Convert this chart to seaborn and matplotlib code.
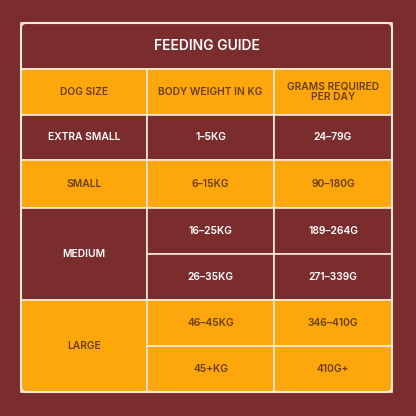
import matplotlib
matplotlib.use("Agg")
import matplotlib.pyplot as plt
from matplotlib.patches import Rectangle, FancyBboxPatch
import seaborn as sns

sns.set_theme(style="white")
plt.rcParams["font.family"] = ["Inter", "DejaVu Sans"]

title = "FEEDING GUIDE"
headers = ["DOG SIZE", "BODY WEIGHT IN KG", "GRAMS REQUIRED\nPER DAY"]
sizes = ["EXTRA SMALL", "SMALL", "MEDIUM", "LARGE"]
weights = [["1–5KG"], ["6–15KG"], ["16–25KG", "26–35KG"], ["46–45KG", "45+KG"]]
grams = [["24–79G"], ["90–180G"], ["189–264G", "271–339G"], ["346–410G", "410G+"]]

# layout in pixels
col_x = [21, 147, 274, 392]
row_h = [45, 48, 92, 92]
top, title_h, head_h = 23, 46, 46

bg = "#7b2d2e"
orange = "#fda70d"
line = "#f4e9d8"
dark_text = "#6b3d12"

fig = plt.figure(figsize=(4.16, 4.16), dpi=100, facecolor=bg)
ax = fig.add_axes([0, 0, 1, 1])
ax.set_xlim(0, 416)
ax.set_ylim(416, 0)
ax.axis("off")
ax.set_facecolor(bg)

lw = 1.2
fs = 7.4
ax.add_patch(Rectangle((col_x[0], top), col_x[3] - col_x[0], title_h, facecolor=bg, edgecolor=line, lw=lw))
ax.text(sum(col_x[::3]) / 2, top + title_h / 2, title, color="white", fontsize=10,
        fontweight="semibold", ha="center", va="center")

y = top + title_h
for i, h in enumerate(headers):
    ax.add_patch(Rectangle((col_x[i], y), col_x[i + 1] - col_x[i], head_h, facecolor=orange, edgecolor=line, lw=lw))
    ax.text((col_x[i] + col_x[i + 1]) / 2, y + head_h / 2, h, color=dark_text, fontsize=fs,
            fontweight="semibold", ha="center", va="center", linespacing=1.1)
y += head_h

for r, size in enumerate(sizes):
    fc = bg if r % 2 == 0 else orange
    tc = "white" if r % 2 == 0 else dark_text
    h = row_h[r]
    ax.add_patch(Rectangle((col_x[0], y), col_x[1] - col_x[0], h, facecolor=fc, edgecolor=line, lw=lw))
    ax.text((col_x[0] + col_x[1]) / 2, y + h / 2, size, color=tc, fontsize=fs,
            fontweight="semibold", ha="center", va="center")
    n = len(weights[r])
    sub = h / n
    for k in range(n):
        for c, vals in ((1, weights[r]), (2, grams[r])):
            ax.add_patch(Rectangle((col_x[c], y + k * sub), col_x[c + 1] - col_x[c], sub,
                                   facecolor=fc, edgecolor=line, lw=lw))
            ax.text((col_x[c] + col_x[c + 1]) / 2, y + k * sub + sub / 2, vals[k], color=tc,
                    fontsize=fs, fontweight="semibold", ha="center", va="center")
    y += h

ax.add_patch(FancyBboxPatch((col_x[0], top), col_x[3] - col_x[0], y - top,
                            boxstyle="round,pad=0,rounding_size=5", facecolor="none",
                            edgecolor=line, lw=1.5))

fig.savefig("out.png", dpi=100, facecolor=bg)
